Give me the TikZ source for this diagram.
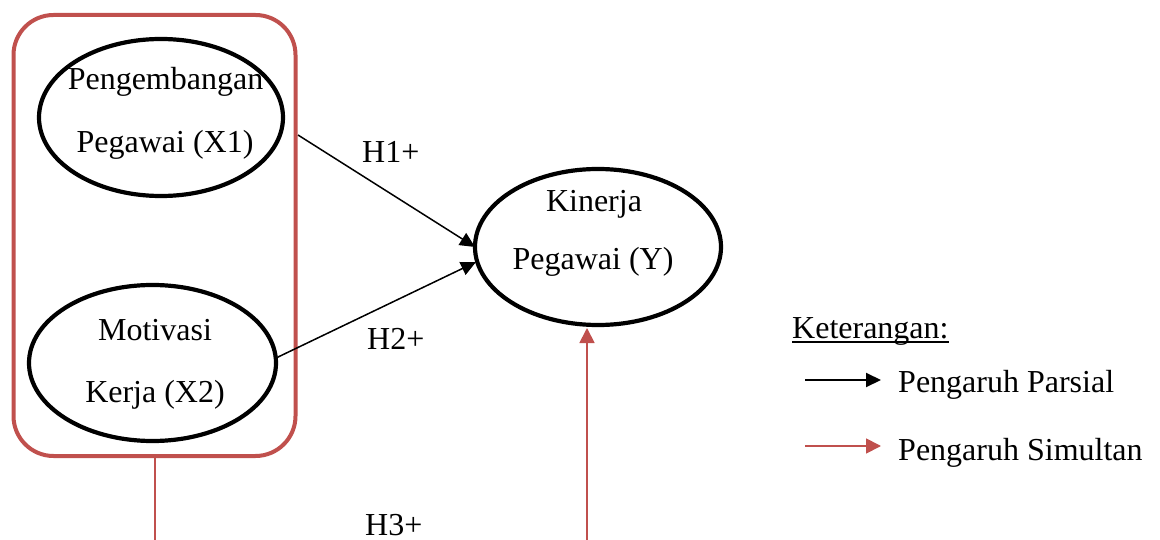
\documentclass[tikz,border=0pt]{standalone}
\usepackage{fontspec}
\setmainfont{Liberation Serif}
\usetikzlibrary{arrows.meta,calc,shapes.geometric}
\definecolor{accent}{HTML}{C0504D}
\tikzset{
  ell/.style={ellipse,draw=black,line width=4.2pt,inner sep=0pt},
  grpbox/.style={rectangle,draw=accent,line width=4pt,rounded corners=40pt,inner sep=0pt},
  txt/.style={inner sep=0pt,font=\fontsize{32}{38}\selectfont},
  parsial/.style={draw=black,line width=1.5pt,-{Triangle[length=15pt,width=14pt]}},
  simultan/.style={draw=accent,line width=1.8pt,-{Triangle[length=15pt,width=15pt]}},
  redline/.style={draw=accent,line width=1.8pt}
}
\begin{document}
\begin{tikzpicture}[x=1pt,y=-1pt]
\useasboundingbox (0,0) rectangle (1160,540);
% group box
\node[grpbox,minimum width=282pt,minimum height=441pt] (grp) at (154.5,235.5) {};
% ellipses
\node[ell,minimum width=244pt,minimum height=157pt] (x1) at (161,117.5) {};
\node[ell,minimum width=247pt,minimum height=156pt] (x2) at (152.5,363) {};
\node[ell,minimum width=246pt,minimum height=156pt] (y) at (598,247) {};
% ellipse texts
\node[txt,anchor=base] (x1a) at (165.5,90) {Pengembangan};
\node[txt,anchor=base] (x1b) at (165,153) {Pegawai (X1)};
\node[txt,anchor=base] (x2a) at (155,340) {Motivasi};
\node[txt,anchor=base] (x2b) at (155,402) {Kerja (X2)};
\node[txt,anchor=base] (ya) at (594,212) {Kinerja};
\node[txt,anchor=base] (yb) at (593,270) {Pegawai (Y)};
% hypothesis labels
\node[txt,anchor=base west] (h1) at (362,163) {H1+};
\node[txt,anchor=base west] (h2) at (367,349) {H2+};
\node[txt,anchor=base west] (h3) at (365,535) {H3+};
% partial connectors
\coordinate (s1) at (298,135);
\coordinate (e1) at (475,247);
\coordinate (s2) at (276,358);
\coordinate (e2) at (476,262);
\draw[parsial] (s1) -- (e1);
\draw[parsial] (s2) -- (e2);
% simultaneous connectors
\coordinate (b1) at (155,541);
\coordinate (b2) at (587,541);
\coordinate (yt) at (587,328);
\draw[redline] (grp.south -| b1) -- (b1);
\draw[simultan] (b2) -- (yt);
% legend
\node[txt,anchor=base west] (kt) at (792,338) {Keterangan:};
\draw[line width=1.6pt] ($(kt.base west)+(0,4)$) -- ($(kt.base east)+(0,4)$);
\coordinate (l1a) at (805,380);
\coordinate (l1b) at (881,380);
\coordinate (l2a) at (805,446);
\coordinate (l2b) at (881,446);
\draw[parsial,line width=2pt] (l1a) -- (l1b);
\draw[simultan] (l2a) -- (l2b);
\node[txt,anchor=base west] (lp) at (898,392) {Pengaruh Parsial};
\node[txt,anchor=base west] (ls) at (898,460) {Pengaruh Simultan};
\end{tikzpicture}
\end{document}
